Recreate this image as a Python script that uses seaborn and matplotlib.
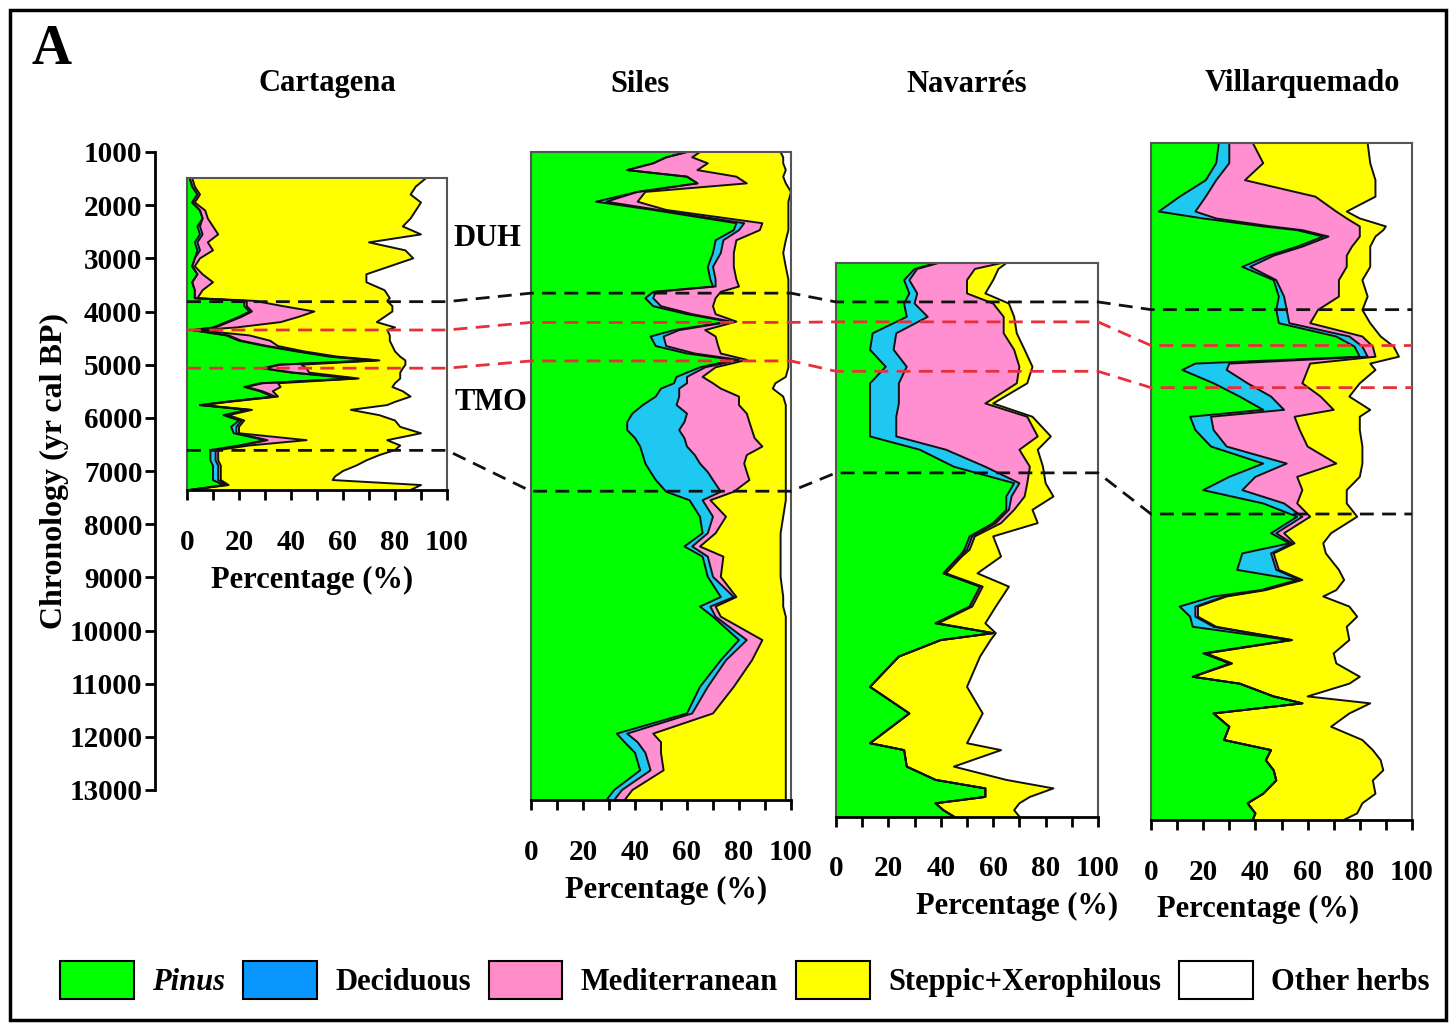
import numpy as np
import matplotlib
matplotlib.use("Agg")
import matplotlib.pyplot as plt
import seaborn as sns
from matplotlib.lines import Line2D
from matplotlib.patches import Patch, Rectangle

# ---------------- DATA (percentages) ----------------
taxa = ["Pinus", "Deciduous", "Mediterranean", "Steppic+Xerophilous", "Other herbs"]
site_names = ["Cartagena", "Siles", "Navarrés", "Villarquemado"]

cart_age = [1490, 1650, 1800, 1950, 2100, 2250, 2400, 2550, 2700, 2850, 3000, 3150, 3300, 3450, 3600,
            3750, 3800, 3900, 4000, 4100, 4200, 4300, 4350, 4450, 4550, 4650, 4750, 4850, 4920, 5000,
            5070, 5150, 5260, 5350, 5420, 5500, 5600, 5700, 5760, 5850, 5950, 6050, 6170, 6290, 6420,
            6520, 6606, 6700, 6800, 6900, 7000, 7100, 7170, 7264, 7357]
cart_pinus = [1, 2, 4, 2, 5, 6, 4, 5, 3, 4, 3, 2, 4, 2, 3, 3, 22, 22, 24, 20, 15, 10, 2, 15, 20,
              30, 42, 55, 72, 35, 29, 40, 64, 28, 22, 28, 33, 15, 5, 23, 14, 20, 17, 18, 30,
              20, 9, 9, 9, 10, 10, 10, 10, 14, 1]
cart_dec = [0, 0, 0, 0, 0, 0, 1, 1, 1, 1, 0, 0, 0, 0, 0, 0, 1, 1, 1, 1, 1, 1, 0, 1, 1,
            1, 1, 1, 1, 1, 1, 1, 1, 1, 1, 1, 1, 0, 0, 1, 1, 1, 2, 1, 1, 1, 2, 2, 2, 2, 2, 2, 2, 1, 0]
cart_med = [1, 1, 1, 1, 2, 2, 5, 6, 4, 5, 2, 1, 2, 8, 3, 1, 3, 14, 24, 22, 20, 8, 2, 8, 11,
            4, 2, 2, 1, 8, 16, 6, 1, 6, 13, 4, 1, 1, 1, 1, 1, 1, 1, 1, 15, 3, 1, 1, 1, 1, 1, 1, 1, 1, 0]
cart_step = [90, 85, 81, 87, 81, 78, 73, 78, 62, 74, 82, 75, 63, 59, 70, 74, 51, 42, 30, 33,
             37, 61, 73, 54, 46, 44, 35, 24, 10, 40, 37, 35, 16, 45, 43, 50, 51, 64, 71, 38,
             58, 58, 62, 70, 31, 58, 68, 62, 57, 52, 47, 44, 43, 74, 85]

sil_age = [1000, 1100, 1213, 1340, 1464, 1590, 1750, 1935, 2090, 2340, 2470, 2660, 2900, 3160, 3400,
           3530, 3630, 3750, 3900, 4050, 4190, 4350, 4470, 4650, 4790, 4910, 5050, 5230, 5350, 5450,
           5600, 5760, 5920, 6080, 6230, 6380, 6540, 6700, 6860, 7020, 7170, 7390, 7550, 7860, 8170,
           8420, 8610, 8990, 9370, 9550, 9740, 10180, 10560, 11060, 11560, 11940, 12100, 12300, 12630,
           13000, 13190]
sil_pinus = [60, 52, 47, 37, 60, 64, 41, 25, 47, 79, 78, 71, 70, 68, 69, 70, 47, 44, 47, 60,
             76, 55, 46, 48, 60, 78, 65, 56, 55, 50, 48, 43, 39, 37, 37, 40, 42, 43, 44, 46,
             48, 52, 61, 65, 66, 59, 66, 68, 73, 65, 70, 80, 73, 65, 60, 33, 36, 40, 42, 32, 29]
sil_dec = [0, 0, 0, 0, 0, 0, 0, 4, 2, 3, 2, 3, 3, 2, 2, 1, 1, 3, 3, 2, 1, 2, 5, 4, 3,
           2, 2, 4, 5, 7, 9, 13, 21, 22, 20, 19, 18, 20, 21, 22, 22, 21, 5, 5, 2,
           3, 2, 2, 5, 4, 1, 3, 2, 3, 2, 4, 5, 4, 4, 3, 3]
sil_med = [5, 10, 21, 27, 19, 19, 3, 12, 3, 7, 8, 5, 5, 8, 8, 9, 25, 24, 20, 9, 2, 10, 20, 20, 10,
           3, 4, 6, 10, 16, 23, 24, 23, 25, 28, 27, 29, 20, 17, 15, 14, 5, 3, 5, 3,
           3, 6, 3, 1, 2, 2, 6, 10, 10, 8, 10, 9, 6, 5, 4, 4]
sil_step = [31, 35, 29, 34, 18, 15, 56, 58, 47, 10, 11, 19, 19, 20, 20, 19, 26, 28, 29, 28,
            20, 32, 28, 27, 26, 16, 28, 32, 24, 20, 17, 18, 15, 14, 13, 12, 9, 15, 16, 15,
            14, 20, 29, 22, 25, 31, 22, 23, 18, 26, 25, 9, 13, 20, 28, 51, 48, 48, 47, 59, 62]

nav_age = [3090, 3200, 3410, 3660, 3850, 4100, 4410, 4720, 5040, 5350, 5730, 5980, 6350, 6600, 6920,
           7230, 7480, 7730, 7980, 8230, 8480, 8610, 8925, 9175, 9550, 9865, 10050, 10180, 10490, 11060,
           11560, 12120, 12250, 12560, 12810, 12970, 13130, 13250, 13380, 13500]
nav_pinus = [38, 30, 26, 28, 26, 27, 14, 13, 19, 13, 13, 13, 13, 32, 45, 68, 65, 65, 60, 51,
             49, 47, 41, 55, 51, 38, 60, 40, 24, 13, 28, 13, 26, 27, 38, 57, 57, 38, 41, 45]
nav_dec = [1, 1, 2, 3, 4, 8, 9, 9, 8, 11, 11, 10, 10, 10, 12, 2, 2, 1, 1, 1,
           1, 0, 0, 0, 0, 0, 0, 0, 0, 0, 0, 0, 0, 0, 0, 0, 0, 0, 0, 0]
nav_med = [24, 22, 22, 19, 30, 29, 41, 46, 43, 45, 33, 50, 54, 28, 17, 3, 5, 2, 2, 1,
           1, 1, 1, 1, 1, 1, 0, 0, 0, 0, 0, 0, 0, 0, 0, 0, 0, 0, 0, 0]
nav_step = [2, 9, 10, 7, 6, 4, 5, 4, 5, 4, 3, 2, 5, 7, 5, 7, 11, 7, 14, 7,
            11, 15, 12, 10, 9, 18, 1, 19, 31, 37, 28, 37, 37, 18, 27, 26, 17, 32, 27, 25]

vil_age = [830, 1210, 1530, 1840, 2120, 2250, 2400, 2470, 2590, 2780, 2950, 3160, 3410, 3720, 3970,
           4220, 4470, 4660, 4850, 4980, 5100, 5350, 5600, 5850, 5980, 6230, 6540, 6860, 7110, 7360,
           7610, 7860, 8170, 8360, 8550, 8860, 9050, 9240, 9360, 9550, 9740, 9930, 10180, 10430, 10620,
           10870, 11000, 11240, 11370, 11560, 11810, 12060, 12250, 12440, 12630, 12820, 13070, 13250,
           13440, 13560]
vil_pinus = [26, 25, 21, 11, 3, 20, 43, 56, 66, 56, 45, 35, 47, 49, 48, 49, 71, 78, 80, 17,
             12, 24, 34, 43, 15, 17, 23, 43, 30, 20, 43, 56, 46, 53, 35, 33, 56, 42, 24, 11,
             15, 16, 53, 20, 30, 16, 34, 47, 58, 24, 30, 28, 46, 44, 47, 48, 43, 37, 40, 39]
vil_dec = [4, 5, 4, 10, 14, 5, 3, 2, 2, 2, 2, 3, 1, 2, 4, 4, 5, 3, 3, 13,
           17, 13, 12, 8, 8, 7, 6, 9, 10, 15, 8, 2, 2, 1, 11, 15, 1, 1, 4, 6,
           2, 8, 1, 1, 1, 0, 0, 0, 0, 0, 0, 0, 0, 0, 0, 0, 0, 0, 0, 0]
vil_med = [9, 13, 11, 42, 54, 50, 34, 22, 12, 19, 28, 37, 24, 21, 12, 8, 5, 4, 3, 31,
           31, 21, 19, 19, 32, 33, 31, 19, 16, 23, 5, 3, 3, 1, 1, 1, 1, 1, 1, 1,
           1, 1, 0, 0, 0, 0, 0, 0, 0, 0, 0, 0, 0, 0, 0, 0, 0, 0, 0, 0]
vil_step = [44, 41, 50, 23, 4, 5, 10, 9, 6, 7, 9, 9, 9, 11, 17, 23, 7, 8, 9, 23,
            26, 22, 11, 14, 25, 23, 21, 10, 24, 17, 19, 18, 18, 11, 20, 23, 16, 27, 37, 58,
            61, 50, 22, 49, 40, 64, 42, 13, 26, 52, 39, 53, 39, 44, 42, 37, 43, 44, 39, 35]

# age span of each record (top, bottom) in yr cal BP
site_span = [(1490, 7357), (1000, 13190), (3090, 13500), (830, 13560)]

# correlation lines: age of each boundary at each site
duh_upper = [3815, 3655, 3820, 3965]      # black
red_upper = [4348, 4205, 4195, 4640]      # red
red_lower = [5066, 4930, 5125, 5432]      # red
tmo_lower = [6612, 7380, 7035, 7809]      # black
chron_ticks = list(range(1000, 13001, 1000))

# ---------------- STYLE ----------------
sns.set_theme(style="ticks")
plt.rcParams["font.family"] = ["Liberation Serif", "DejaVu Serif"]
plt.rcParams["font.weight"] = "bold"
plt.rcParams["axes.labelweight"] = "bold"
plt.rcParams["text.color"] = "black"
plt.rcParams["axes.labelcolor"] = "black"
plt.rcParams["xtick.color"] = "black"
plt.rcParams["ytick.color"] = "black"
plt.rcParams["xtick.labelcolor"] = "black"
plt.rcParams["ytick.labelcolor"] = "black"

fill_cols = ["#00ff00", "#1ec8f0", "#ff8fd0", "#ffff00"]
legend_cols = ["#00ff00", "#0a96ff", "#ff8cc8", "#ffff00", "#ffffff"]

W, H = 1455, 1025
fig = plt.figure(figsize=(W / 100, H / 100), dpi=100)
fig.patch.set_facecolor("white")


def age_px(a):
    return 152 + (a - 1000) * (790 - 152) / 12000.0


panel_x = [(187, 447), (531, 791), (836, 1098), (1151, 1412)]
title_x = [327, 640, 967, 1302]
xlabel_frac = [0.48, 0.52, 0.69, 0.41]

records = [
    (cart_age, [cart_pinus, cart_dec, cart_med, cart_step]),
    (sil_age, [sil_pinus, sil_dec, sil_med, sil_step]),
    (nav_age, [nav_pinus, nav_dec, nav_med, nav_step]),
    (vil_age, [vil_pinus, vil_dec, vil_med, vil_step]),
]

axes = []
for i, (ages, comps) in enumerate(records):
    x0, x1 = panel_x[i]
    top, bot = site_span[i]
    ytop, ybot = age_px(top), age_px(bot)
    ax = fig.add_axes([x0 / W, 1 - ybot / H, (x1 - x0) / W, (ybot - ytop) / H])
    ax.set_facecolor("white")
    ages = np.array(ages, dtype=float)
    cum = np.zeros_like(ages)
    bounds = []
    for vals, col in zip(comps, fill_cols):
        upper = cum + np.array(vals, dtype=float)
        ax.fill_betweenx(ages, cum, upper, color=col, lw=0, zorder=1)
        bounds.append(upper)
        cum = upper
    for b in bounds:
        sns.lineplot(x=b, y=ages, orient="y", sort=False, estimator=None,
                     color="#111111", lw=1.4, ax=ax, legend=False, zorder=2)
    ax.set_xlim(0, 100)
    ax.set_ylim(bot, top)
    ax.set_xticks(range(0, 101, 20))
    ax.set_xticks(range(10, 100, 20), minor=True)
    ax.set_yticks([])
    ax.tick_params(axis="x", which="both", direction="out", length=7, width=2,
                   color="black", pad=21, labelsize=21, labelcolor="black")
    for lab in ax.get_xticklabels():
        lab.set_fontweight("bold")
    for s in ["left", "right", "top"]:
        ax.spines[s].set_color("#555555")
        ax.spines[s].set_linewidth(1.5)
    ax.spines["bottom"].set_color("black")
    ax.spines["bottom"].set_linewidth(2)
    ax.set_ylabel("")
    ax.set_xlabel("Percentage (%)", fontsize=22, fontweight="bold", labelpad=7, color="black")
    ax.xaxis.label.set_x(xlabel_frac[i])
    fig.text(title_x[i] / W, 1 - 84 / H, site_names[i], ha="center", va="center",
             fontsize=22, fontweight="bold", color="black")
    axes.append(ax)

# chronology axis
axc = fig.add_axes([155 / W, 1 - 790 / H, 0.0001, (790 - 152) / H])
axc.set_ylim(13000, 1000)
axc.set_yticks(chron_ticks)
axc.xaxis.set_visible(False)
for s in ["right", "top", "bottom"]:
    axc.spines[s].set_visible(False)
axc.spines["left"].set_linewidth(2)
axc.spines["left"].set_color("black")
axc.tick_params(axis="y", direction="out", length=7, width=2, color="black", pad=2,
                labelsize=21, labelcolor="black")
for lab in axc.get_yticklabels():
    lab.set_fontweight("bold")
axc.set_ylabel("Chronology (yr cal BP)", fontsize=23, fontweight="bold", labelpad=0, color="black")
axc.patch.set_alpha(0)

# correlation dashed lines
to_fig = fig.transFigure.inverted()
for ages_line, col in [(duh_upper, "#111111"), (red_upper, "#e8303c"),
                       (red_lower, "#e8303c"), (tmo_lower, "#111111")]:
    pts = []
    for ax, a in zip(axes, ages_line):
        pts.append(to_fig.transform(ax.transData.transform((0, a))))
        pts.append(to_fig.transform(ax.transData.transform((100, a))))
    pts = np.array(pts)
    fig.add_artist(Line2D(pts[:, 0], pts[:, 1], transform=fig.transFigure, color=col,
                          lw=2, ls=(0, (5, 3)), zorder=5))

fig.text(487 / W, 1 - 238 / H, "DUH", ha="center", va="center", fontsize=22, fontweight="bold")
fig.text(491 / W, 1 - 403 / H, "TMO", ha="center", va="center", fontsize=22, fontweight="bold")
fig.text(52 / W, 1 - 50 / H, "A", ha="center", va="center", fontsize=40, fontweight="bold")

# legend
handles = [Patch(facecolor=c, edgecolor="black", lw=1.5) for c in legend_cols]
leg = fig.legend(handles, taxa, loc="center", bbox_to_anchor=(745 / W, 1 - 980 / H), ncol=5,
                 frameon=False, prop={"weight": "bold", "size": 22}, handlelength=2.4,
                 handleheight=1.5, handletextpad=0.6, columnspacing=0.6, borderpad=0)
for t in leg.get_texts():
    t.set_color("black")
leg.get_texts()[0].set_fontstyle("italic")

# outer frame
fig.add_artist(Rectangle((10 / W, 1 - 1020 / H), 1436 / W, 1010 / H, transform=fig.transFigure,
                         fill=False, lw=2.5, ec="black", zorder=10))

fig.savefig("out.png", dpi=100, facecolor="white")
